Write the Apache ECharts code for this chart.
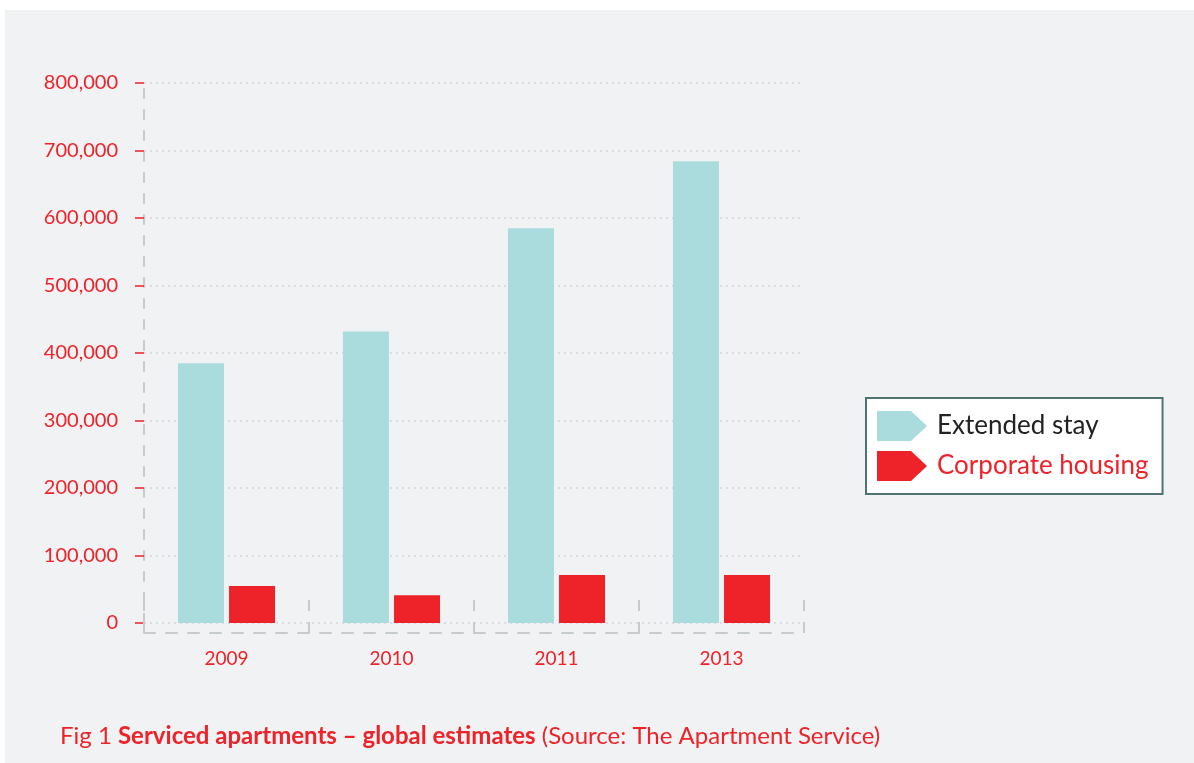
<!DOCTYPE html>
<html>
<head>
<meta charset="utf-8">
<script src="https://cdn.jsdelivr.net/npm/echarts@6/dist/echarts.min.js"></script>
<style>
  html, body { margin: 0; padding: 0; background: #ffffff; }
  #panel { position: absolute; left: 5px; top: 10px; right: 0; bottom: 0; background: #f1f2f4; }
  #chart { position: absolute; left: 0; top: 0; width: 1194px; height: 763px; }
</style>
</head>
<body>
<div id="panel"></div>
<div id="chart"></div>
<script>
  // data
  const years = ['2009', '2010', '2011', '2013'];
  const extendedStay = [385000, 432000, 585000, 684000];
  const corporateHousing = [55000, 41000, 71000, 71000];

  const RED = '#ee2229';
  const TEAL = '#aadcdd';
  const DASH_GREY = '#c6cbcb';
  const tagIcon = 'path://M0,0 L34,0 L50,15 L34,30 L0,30 Z';

  const chart = echarts.init(document.getElementById('chart'));

  const option = {
    backgroundColor: 'transparent',
    animation: false,
    title: {
      left: 55,
      top: 719,
      text: 'Fig 1 {b|Serviced apartments \u2013 global estimates} (Source: The Apartment Service)',
      textStyle: {
        fontFamily: 'Lato',
        fontSize: 24,
        fontWeight: 'normal',
        color: RED,
        rich: {
          b: { fontFamily: 'Lato', fontSize: 24, fontWeight: 'bold', color: RED }
        }
      }
    },
    legend: {
      orient: 'vertical',
      left: 866,
      top: 398,
      padding: [13, 14, 13, 11],
      backgroundColor: '#ffffff',
      borderColor: '#4f7373',
      borderWidth: 2,
      borderRadius: 0,
      itemWidth: 50,
      itemHeight: 30,
      itemGap: 10,
      selectedMode: false,
      textStyle: { fontFamily: 'Lato', fontSize: 26, padding: [3, 0, 0, 5] },
      data: [
        { name: 'Extended stay', icon: tagIcon, textStyle: { color: '#222222' } },
        { name: 'Corporate housing', icon: tagIcon, textStyle: { color: RED } }
      ]
    },
    grid: { left: 144, right: 390, top: 83, bottom: 140 },
    xAxis: {
      type: 'category',
      data: years,
      offset: 10,
      axisLine: { show: true, onZero: false, lineStyle: { color: DASH_GREY, width: 2, type: [11, 11] } },
      axisTick: {
        show: true,
        inside: true,
        length: 33,
        lineStyle: { color: DASH_GREY, width: 2, type: [11, 11] }
      },
      axisLabel: {
        margin: 16,
        color: RED,
        fontFamily: 'Lato',
        fontSize: 19
      }
    },
    yAxis: {
      type: 'value',
      min: 0,
      max: 800000,
      interval: 100000,
      axisLine: { show: true, lineStyle: { color: DASH_GREY, width: 2, type: [9, 12] } },
      axisTick: { show: true, length: 9, lineStyle: { color: RED, width: 1.5 } },
      axisLabel: {
        margin: 26,
        color: RED,
        fontFamily: 'Lato',
        fontSize: 20,
        formatter: v => v.toLocaleString('en-US')
      },
      splitLine: { show: true, lineStyle: { color: '#d2d5d8', width: 1.5, type: [2, 4] } }
    },
    series: [
      {
        name: 'Extended stay',
        type: 'bar',
        data: extendedStay,
        barWidth: 46,
        barGap: '11%',
        itemStyle: { color: TEAL }
      },
      {
        name: 'Corporate housing',
        type: 'bar',
        data: corporateHousing,
        barWidth: 46,
        itemStyle: { color: RED }
      }
    ]
  };

  chart.setOption(option);
</script>
</body>
</html>
